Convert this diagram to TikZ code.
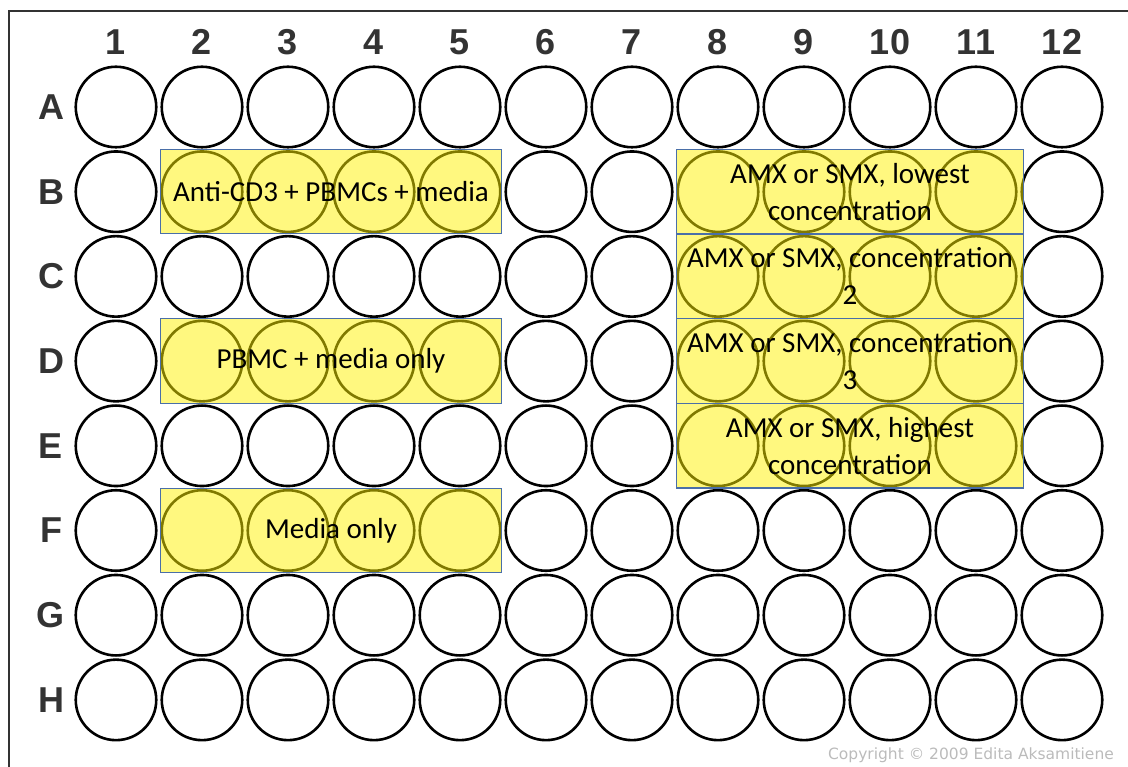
\documentclass[tikz,border=0pt]{standalone}
\usepackage{fontspec}
\usepackage{tikz}
\usetikzlibrary{positioning,fit}
\newfontfamily\labelfont{Liberation Sans}
\newfontfamily\boxfont{Carlito}
\newfontfamily\notefont{DejaVu Sans}
\definecolor{frame}{HTML}{333333}
\definecolor{boxblue}{HTML}{4A6FA8}
\definecolor{note}{HTML}{BBBBBB}

\begin{document}
\begin{tikzpicture}[x=1pt,y=-1pt,
 well/.style={circle,draw=black,line width=2.6pt,minimum size=80.5pt,inner sep=0pt},
 plate/.style={draw=boxblue,line width=1.1pt,fill=yellow,fill opacity=0.5,inner xsep=0pt,inner ysep=0.6pt},
 tag/.style={align=center,inner sep=0pt,font=\boxfont\fontsize{29}{37}\selectfont},
 head/.style={font=\labelfont\bfseries\fontsize{36}{36}\selectfont,text=frame,inner sep=0pt}]
 \useasboundingbox (0,0) rectangle (1128,767);
 % plate outline
 \coordinate (tl) at (9,11);
 \draw[frame,line width=2.8pt] (1128,11) -- (tl) -- (9,767);
 % wells and headers
 \foreach \c in {1,...,12}
  \node[head] (col\c) at ({116+(\c-1)*86},42) {\c};
 \foreach \r [count=\i] in {A,...,H}{
  \node[head] (row\r) at (51,{107+(\i-1)*84.7}) {\r};
  \foreach \c in {1,...,12}
   \node[well] (\r\c) at ({116+(\c-1)*86},{107+(\i-1)*84.7}) {};
 }
 % treatment blocks
 \node[plate,fit=(B2)(B5)] (antiCD) {};
 \node[plate,fit=(D2)(D5)] (pbmc) {};
 \node[plate,fit=(F2)(F5)] (media) {};
 \node[plate,fit=(B8)(B11),inner xsep=3pt,xshift=3pt] (conc1) {};
 \node[plate,fit=(C8)(C11),inner xsep=3pt,xshift=3pt] (conc2) {};
 \node[plate,fit=(D8)(D11),inner xsep=3pt,xshift=3pt] (conc3) {};
 \node[plate,fit=(E8)(E11),inner xsep=3pt,xshift=3pt] (conc4) {};
 \node[tag] (antiCDtxt) at (antiCD) {Anti-CD3 + PBMCs + media};
 \node[tag] (pbmctxt) at (pbmc) {PBMC + media only};
 \node[tag] (mediatxt) at (media) {Media only};
 \node[tag] (conc1txt) at (conc1) {AMX or SMX, lowest\\concentration};
 \node[tag] (conc2txt) at (conc2) {AMX or SMX, concentration\\2};
 \node[tag] (conc3txt) at (conc3) {AMX or SMX, concentration\\3};
 \node[tag] (conc4txt) at (conc4) {AMX or SMX, highest\\concentration};
 \node[font=\notefont\fontsize{15.5}{15.5}\selectfont,text=note,inner sep=0pt] (copy) at (971,755) {Copyright © 2009 Edita Aksamitiene};
\end{tikzpicture}
\end{document}
